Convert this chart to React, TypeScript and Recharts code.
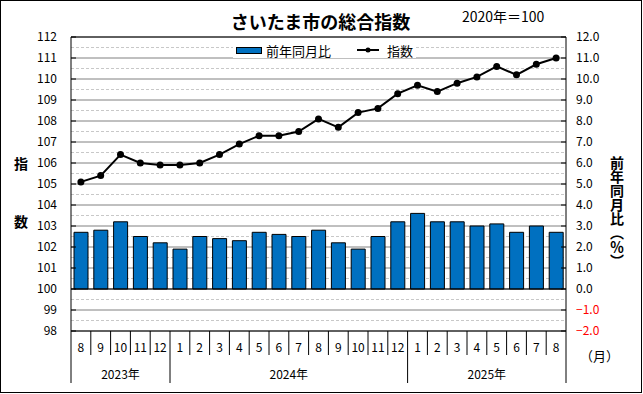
import React from 'react';
import { ComposedChart, Bar, Line, XAxis, YAxis, CartesianGrid, ReferenceLine, Legend } from 'recharts';

const months = ['8', '9', '10', '11', '12', '1', '2', '3', '4', '5', '6', '7', '8', '9', '10', '11', '12', '1', '2', '3', '4', '5', '6', '7', '8'];
const yearLabels = ['2023年', '2024年', '2025年'];
const yearCounts = [5, 12, 8];
const indexValues = [105.1, 105.4, 106.4, 106.0, 105.9, 105.9, 106.0, 106.4, 106.9, 107.3, 107.3, 107.5, 108.1, 107.7, 108.4, 108.6, 109.3, 109.7, 109.4, 109.8, 110.1, 110.6, 110.2, 110.7, 111.0];
const yoyValues = [2.7, 2.8, 3.2, 2.5, 2.2, 1.9, 2.5, 2.4, 2.3, 2.7, 2.6, 2.5, 2.8, 2.2, 1.9, 2.5, 3.2, 3.6, 3.2, 3.2, 3.0, 3.1, 2.7, 3.0, 2.7];
const leftTicks = [98, 99, 100, 101, 102, 103, 104, 105, 106, 107, 108, 109, 110, 111, 112];
const rightTicks = [-2, -1, 0, 1, 2, 3, 4, 5, 6, 7, 8, 9, 10, 11, 12];
const minorLines = [98.5, 99.5, 100.5, 101.5, 102.5, 103.5, 104.5, 105.5, 106.5, 107.5, 108.5, 109.5, 110.5, 111.5];

const W = 643;
const H = 394;
const LEFT_W = 71;
const RIGHT_W = 77;
const PLOT_W = W - LEFT_W - RIGHT_W;
const BAND = PLOT_W / months.length;
const FONT = "'Noto Sans CJK JP', 'Noto Sans', sans-serif";

const data = months.map((m, i) => ({ month: m, index: indexValues[i], yoy: yoyValues[i] }));
const groupStarts = yearCounts.map((_, i) => yearCounts.slice(0, i).reduce((a, b) => a + b, 0));

// month labels + separators, year labels on a second row
const MonthTick = (props: any) => {
  const { x, y, payload, index } = props;
  const i = index ?? payload.index;
  const g = groupStarts.indexOf(i);
  const left = x - BAND / 2;
  return (
    <g>
      <line x1={left} y1={y} x2={left} y2={y + (g >= 0 ? 52 : 24)} stroke="#000" />
      {i === months.length - 1 && (
        <line x1={x + BAND / 2} y1={y} x2={x + BAND / 2} y2={y + 52} stroke="#000" />
      )}
      <text x={x} y={y + 21} textAnchor="middle" fontSize={12} fill="#000">{payload.value}</text>
      {g >= 0 && (
        <text x={x + ((yearCounts[g] - 1) * BAND) / 2} y={y + 48} textAnchor="middle" fontSize={12} fill="#000">
          {yearLabels[g]}
        </text>
      )}
    </g>
  );
};

const LeftTick = (props: any) => {
  const { x, y, payload } = props;
  return (
    <g>
      <line x1={x + 14} x2={x + 19} y1={y} y2={y} stroke="#000" />
      <text x={x} y={y} dy={4} textAnchor="end" fontSize={12} fill="#000">{payload.value}</text>
    </g>
  );
};

const RightTick = (props: any) => {
  const { x, y, payload } = props;
  const v = payload.value as number;
  const label = v < 0 ? '−' + Math.abs(v).toFixed(1) : v.toFixed(1);
  return (
    <g>
      <line x1={x - 15} x2={x - 10} y1={y} y2={y} stroke="#000" />
      <text x={x} y={y} dy={4} textAnchor="start" fontSize={12} fill={v < 0 ? '#ff0000' : '#000'}>{label}</text>
    </g>
  );
};

const renderLegend = () => (
  <div style={{ display: 'flex', alignItems: 'center', background: '#fff', height: 16, padding: '0 3px', fontSize: 13, color: '#000', fontFamily: FONT }}>
    <span style={{ display: 'inline-block', width: 24, height: 5, background: '#0070C0', border: '1px solid #000', marginRight: 4 }} />
    <span>前年同月比</span>
    <svg width={22} height={10} style={{ marginLeft: 26, marginRight: 8 }}>
      <line x1={0} y1={5} x2={22} y2={5} stroke="#000" strokeWidth={2} />
      <circle cx={11} cy={5} r={2.5} fill="#000" />
    </svg>
    <span>指数</span>
  </div>
);

export default function App() {
  return (
    <div style={{ position: 'absolute', left: 0, top: 0, width: W, height: H, fontFamily: FONT, background: '#fff' }}>
      <ComposedChart width={W} height={H} data={data} margin={{ top: 37, right: 0, bottom: 0, left: 0 }}>
        <CartesianGrid yAxisId="left" vertical={false} horizontalValues={minorLines} stroke="#c8c8c8" strokeDasharray="3 2" />
        <CartesianGrid yAxisId="left" vertical={false} stroke="#808080" />
        <XAxis dataKey="month" interval={0} height={63} tickSize={0} tickMargin={0} tickLine={false} axisLine={{ stroke: '#000' }} tick={<MonthTick />} />
        <YAxis yAxisId="left" orientation="left" width={LEFT_W} domain={[98, 112]} ticks={leftTicks} interval={0} tickSize={0} tickMargin={14} tickLine={false} axisLine={{ stroke: '#000' }} tick={<LeftTick />} />
        <YAxis yAxisId="right" orientation="right" width={RIGHT_W} domain={[-2, 12]} ticks={rightTicks} interval={0} tickSize={0} tickMargin={10} tickLine={false} axisLine={{ stroke: '#000' }} tick={<RightTick />} />
        <ReferenceLine yAxisId="left" y={112} stroke="#000" />
        <ReferenceLine yAxisId="left" y={100} stroke="#000" />
        <Legend verticalAlign="middle" layout="horizontal" content={renderLegend} wrapperStyle={{ position: 'absolute', top: 42, left: 233, width: 'auto' }} />
        <Bar yAxisId="right" dataKey="yoy" name="前年同月比" fill="#0070C0" stroke="#000" strokeWidth={1} barSize={14} isAnimationActive={false} />
        <Line yAxisId="left" dataKey="index" name="指数" stroke="#000" strokeWidth={2} dot={{ r: 2.5, fill: '#000', stroke: '#000' }} isAnimationActive={false} />
      </ComposedChart>
      <div style={{ position: 'absolute', left: 0, top: 0, width: W - 1, height: H - 1, border: '1px solid #000', boxSizing: 'border-box', pointerEvents: 'none' }} />
      <div style={{ position: 'absolute', left: 0, width: W, top: 9, textAlign: 'center', fontSize: 18, fontWeight: 'bold', lineHeight: '24px' }}>
        <span style={{ position: 'relative', left: -1 }}>さいたま市の総合指数</span>
      </div>
      <div style={{ position: 'absolute', left: 462, top: 7, fontSize: 14, lineHeight: '18px' }}>2020年＝100</div>
      <div style={{ position: 'absolute', left: 14, top: 154, fontSize: 14, fontWeight: 'bold', lineHeight: '18px' }}>指</div>
      <div style={{ position: 'absolute', left: 14, top: 212, fontSize: 14, fontWeight: 'bold', lineHeight: '18px' }}>数</div>
      <div style={{ position: 'absolute', left: 609, top: 156, fontSize: 14, fontWeight: 'bold', writingMode: 'vertical-rl', textOrientation: 'upright', lineHeight: '16px' }}>前年同月比︵％︶</div>
      <div style={{ position: 'absolute', left: 580, top: 347, fontSize: 13, lineHeight: '18px' }}>（月）</div>
    </div>
  );
}
